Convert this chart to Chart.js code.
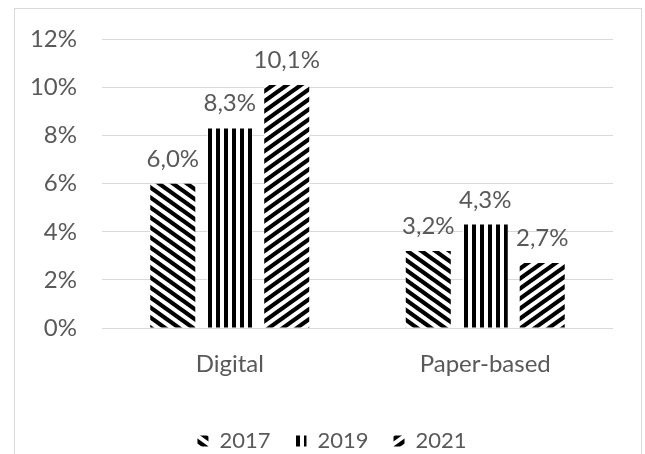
<!DOCTYPE html>
<html><head><meta charset="utf-8">
<script src="https://cdn.jsdelivr.net/npm/chart.js@4/dist/chart.umd.min.js"></script>
<style>
html,body{margin:0;padding:0;background:#fff;overflow:hidden;}
#wrap{position:relative;width:645px;height:454px;overflow:hidden;}
#frame{position:absolute;left:14px;top:8px;width:628px;height:470px;border:1px solid #d9d9d9;box-sizing:border-box;}
#c{position:absolute;left:0;top:0;}
</style></head><body>
<div id="wrap"><div id="frame"></div><canvas id="c" width="645" height="520"></canvas></div>
<script>
const categories = ['Digital', 'Paper-based'];
const seriesNames = ['2017', '2019', '2021'];
const values2017 = [6.0, 3.2];
const values2019 = [8.3, 4.3];
const values2021 = [10.1, 2.7];
const yMax = 12;
const yStep = 2;

const FONT = 'Lato';
const FS = 24;
const LFS = 22;
const GREY = '#595959';

function makePattern(type){
  const c = document.createElement('canvas');
  let w, h;
  if (type === 'v') { w = 8; h = 8; } else { w = 14; h = 10; }
  c.width = w; c.height = h;
  const g = c.getContext('2d');
  g.fillStyle = '#fff'; g.fillRect(0,0,w,h);
  g.fillStyle = '#000'; g.strokeStyle = '#000';
  if (type === 'v') {
    g.fillRect(0,0,4,h);
  } else {
    g.lineWidth = 4.2;
    for (let k = -2; k <= 2; k++) {
      g.beginPath();
      if (type === 'down') { g.moveTo(k*w - w, -h); g.lineTo(k*w + 2*w, 2*h); }
      else { g.moveTo(k*w - w, 2*h); g.lineTo(k*w + 2*w, -h); }
      g.stroke();
    }
  }
  return g.createPattern(c, 'repeat');
}

const valueLabels = {
  id: 'valueLabels',
  afterDatasetsDraw(chart){
    const ctx = chart.ctx;
    ctx.save();
    ctx.font = FS + 'px ' + FONT;
    ctx.fillStyle = GREY;
    ctx.textAlign = 'center';
    ctx.textBaseline = 'alphabetic';
    chart.data.datasets.forEach((ds, i) => {
      chart.getDatasetMeta(i).data.forEach((bar, j) => {
        const txt = ds.data[j].toFixed(1).replace('.', ',') + '%';
        ctx.fillText(txt, bar.x, bar.y - 17);
      });
    });
    ctx.restore();
  }
};

const legendShift = {
  id: 'legendShift',
  afterLayout(chart){
    if (chart.legend) { chart.legend.left = 51; }
  }
};

function draw(){
  const pats = [makePattern('down'), makePattern('v'), makePattern('up')];
  const series = [values2017, values2019, values2021];
  new Chart(document.getElementById('c'), {
    type: 'bar',
    data: {
      labels: categories,
      datasets: seriesNames.map((n, i) => ({
        label: n,
        data: series[i],
        backgroundColor: pats[i],
        borderWidth: 0,
        categoryPercentage: 0.669,
        barPercentage: 0.79
      }))
    },
    options: {
      responsive: false,
      devicePixelRatio: 1,
      animation: false,
      layout: { padding: { left: 0, right: 32, top: 38, bottom: 58 } },
      scales: {
        x: {
          grid: { display: false, drawTicks: false },
          border: { display: false },
          ticks: { color: GREY, font: { family: FONT, size: FS }, padding: 22 },
          afterFit: s => { s.height = 77; }
        },
        y: {
          min: 0, max: yMax,
          grid: { color: '#d9d9d9', lineWidth: 1, drawTicks: false },
          border: { display: false },
          ticks: { stepSize: yStep, color: GREY, font: { family: FONT, size: FS }, padding: 25,
                   callback: v => v + '%' },
          afterFit: s => { s.width = 102; }
        }
      },
      plugins: {
        legend: {
          position: 'bottom',
          labels: { boxWidth: 11, boxHeight: 11, padding: 25, color: GREY, font: { family: FONT, size: LFS } }
        },
        tooltip: { enabled: false }
      }
    },
    plugins: [valueLabels, legendShift]
  });
}
(document.fonts ? document.fonts.load(FS + 'px ' + FONT) : Promise.resolve()).then(draw, draw);
</script>
</body></html>
